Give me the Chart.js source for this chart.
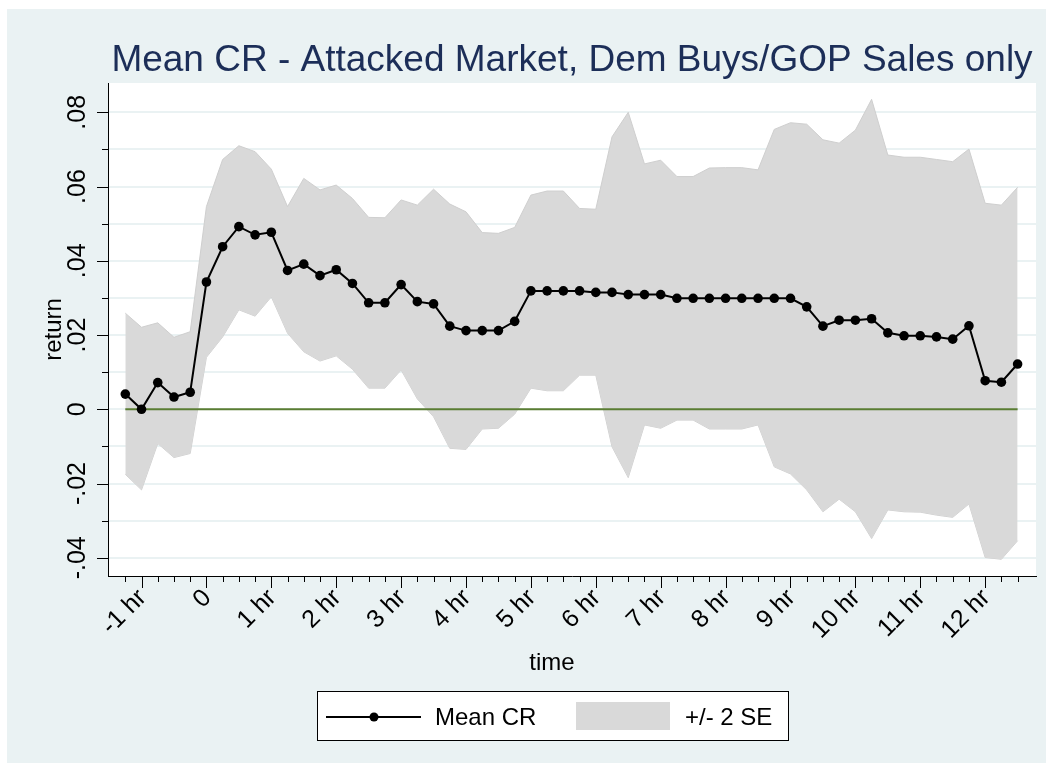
<!DOCTYPE html>
<html>
<head>
<meta charset="utf-8">
<title>Mean CR</title>
<script src="https://cdn.jsdelivr.net/npm/chart.js@4.4.1/dist/chart.umd.min.js"></script>
<style>
  html, body { margin: 0; padding: 0; background: #fff; }
  canvas { display: block; }
</style>
</head>
<body>
<canvas id="cr-chart" width="1053" height="772"></canvas>
<script>
// time in minutes relative to the event
const times = [-75, -60, -45, -30, -15, 0, 15, 30, 45, 60,
  75, 90, 105, 120, 135, 150, 165, 180, 195, 210,
  225, 240, 255, 270, 285, 300, 315, 330, 345, 360,
  375, 390, 405, 420, 435, 450, 465, 480, 495, 510,
  525, 540, 555, 570, 585, 600, 615, 630, 645, 660,
  675, 690, 705, 720, 735, 750];

const meanCR = [.0041, .0000, .0072, .0033, .0046, .0343, .0438, .0492, .0470, .0477,
  .0374, .0391, .0360, .0376, .0339, .0287, .0287, .0336, .0290, .0284,
  .0224, .0212, .0212, .0212, .0237, .0319, .0319, .0319, .0319, .0315,
  .0315, .0309, .0309, .0309, .0299, .0299, .0299, .0299, .0299, .0299,
  .0299, .0299, .0276, .0224, .0240, .0240, .0244, .0206, .0198, .0198,
  .0195, .0189, .0225, .0077, .0073, .0122];

const upperSE = [.0259, .0221, .0233, .0194, .0209, .0546, .0673, .0710, .0694, .0647,
  .0546, .0622, .0591, .0604, .0568, .0517, .0516, .0564, .0550, .0593,
  .0553, .0532, .0476, .0474, .0490, .0577, .0588, .0588, .0541, .0539,
  .0734, .0800, .0661, .0671, .0627, .0627, .0650, .0651, .0651, .0645,
  .0754, .0772, .0768, .0726, .0717, .0752, .0835, .0685, .0679, .0679,
  .0673, .0667, .0701, .0555, .0550, .0598];

const lowerSE = [-.0175, -.0217, -.0092, -.0130, -.0119, .0140, .0195, .0268, .0251, .0303,
  .0205, .0155, .0130, .0144, .0108, .0057, .0057, .0106, .0028, -.0020,
  -.0105, -.0108, -.0053, -.0051, -.0013, .0057, .0050, .0050, .0092, .0092,
  -.0101, -.0184, -.0042, -.0051, -.0029, -.0029, -.0053, -.0053, -.0053, -.0042,
  -.0155, -.0174, -.0217, -.0276, -.0242, -.0276, -.0348, -.0271, -.0276, -.0277,
  -.0285, -.0291, -.0255, -.0399, -.0404, -.0354];

// reference line at zero, from first to last time
const zeroLine = [{x: -75, y: 0}, {x: 750, y: 0}];

const xLabelValues = [-60, 0, 60, 120, 180, 240, 300, 360, 420, 480, 540, 600, 660, 720];
const xLabels = ['-1 hr', '0', '1 hr', '2 hr', '3 hr', '4 hr', '5 hr', '6 hr', '7 hr', '8 hr', '9 hr', '10 hr', '11 hr', '12 hr'];
const yMajor = [-0.04, -0.02, 0, 0.02, 0.04, 0.06, 0.08];
const yLabels = ['-.04', '-.02', '0', '.02', '.04', '.06', '.08'];
const yMinor = [-0.03, -0.01, 0.01, 0.03, 0.05, 0.07];

const FONT = '"Liberation Sans", Arial, Helvetica, sans-serif';
const bandGray = '#d9d9d9';

const toXY = vals => times.map((t, i) => ({x: t, y: vals[i]}));

const stataLook = {
  id: 'stataLook',
  beforeDraw(chart) {
    const ctx = chart.ctx, a = chart.chartArea;
    ctx.save();
    ctx.fillStyle = '#ffffff';
    ctx.fillRect(0, 0, chart.width, chart.height);
    ctx.fillStyle = '#eaf2f3';
    ctx.fillRect(7, 9, 1039, 754);
    ctx.fillStyle = '#ffffff';
    ctx.fillRect(a.left, a.top, a.right - a.left, a.bottom - a.top);
    ctx.restore();
  },
  afterDraw(chart) {
    const ctx = chart.ctx, a = chart.chartArea;
    const x = chart.scales.x, y = chart.scales.y;
    ctx.save();
    ctx.strokeStyle = '#000';
    ctx.lineWidth = 1;

    // x ticks (15 min minor, hourly major)
    times.forEach(t => {
      const px = Math.round(x.getPixelForValue(t)) + 0.5;
      const len = xLabelValues.includes(t) ? 12 : 6;
      ctx.beginPath();
      ctx.moveTo(px, a.bottom);
      ctx.lineTo(px, a.bottom + len);
      ctx.stroke();
    });
    // y ticks
    yMajor.concat(yMinor).forEach((v, i) => {
      const py = Math.round(y.getPixelForValue(v)) + 0.5;
      const len = i < yMajor.length ? 11 : 6;
      ctx.beginPath();
      ctx.moveTo(a.left, py);
      ctx.lineTo(a.left - len, py);
      ctx.stroke();
    });

    ctx.fillStyle = '#000';
    ctx.font = '25px ' + FONT;
    // x labels, rotated 45
    xLabelValues.forEach((v, i) => {
      ctx.save();
      ctx.translate(x.getPixelForValue(v) + 1, a.bottom + 18);
      ctx.rotate(-Math.PI / 4);
      ctx.textAlign = 'right';
      ctx.textBaseline = 'middle';
      ctx.fillText(xLabels[i], 0, 0);
      ctx.restore();
    });
    // y labels, vertical
    yMajor.forEach((v, i) => {
      ctx.save();
      ctx.translate(a.left - 30, y.getPixelForValue(v));
      ctx.rotate(-Math.PI / 2);
      ctx.textAlign = 'center';
      ctx.textBaseline = 'middle';
      ctx.fillText(yLabels[i], 0, 0);
      ctx.restore();
    });

    // axis titles
    ctx.font = '24px ' + FONT;
    ctx.save();
    ctx.translate(54, (a.top + a.bottom) / 2);
    ctx.rotate(-Math.PI / 2);
    ctx.textAlign = 'center';
    ctx.textBaseline = 'middle';
    ctx.fillText('return', 0, 0);
    ctx.restore();
    ctx.textAlign = 'center';
    ctx.textBaseline = 'alphabetic';
    ctx.fillText('time', 552, 670);

    // title
    ctx.fillStyle = '#1c2e58';
    ctx.font = '37px ' + FONT;
    ctx.fillText('Mean CR - Attacked Market, Dem Buys/GOP Sales only', (a.left + a.right) / 2, 71);

    // legend
    ctx.fillStyle = '#fff';
    ctx.fillRect(317, 691, 472, 50);
    ctx.strokeStyle = '#000';
    ctx.strokeRect(317.5, 691.5, 471, 49);
    ctx.lineWidth = 2;
    ctx.beginPath();
    ctx.moveTo(326, 717);
    ctx.lineTo(421, 717);
    ctx.stroke();
    ctx.fillStyle = '#000';
    ctx.beginPath();
    ctx.arc(374, 717, 4.5, 0, Math.PI * 2);
    ctx.fill();
    ctx.fillStyle = bandGray;
    ctx.fillRect(576, 702, 94, 28);
    ctx.fillStyle = '#000';
    ctx.font = '24px ' + FONT;
    ctx.textAlign = 'left';
    ctx.fillText('Mean CR', 435, 725);
    ctx.fillText('+/- 2 SE', 685, 725);
    ctx.restore();
  }
};

new Chart(document.getElementById('cr-chart'), {
  type: 'line',
  data: {
    datasets: [
      {
        label: 'Mean CR',
        data: toXY(meanCR),
        borderColor: '#000',
        borderWidth: 2,
        pointRadius: 4.8,
        pointBorderWidth: 0,
        pointBackgroundColor: '#000',
        tension: 0,
        order: 0
      },
      {
        label: 'zero',
        data: zeroLine,
        borderColor: '#5a7d33',
        borderWidth: 2,
        pointRadius: 0,
        order: 1
      },
      {
        label: '+/- 2 SE',
        data: toXY(upperSE),
        borderColor: '#cfcfcf',
        borderWidth: 1,
        pointRadius: 0,
        backgroundColor: bandGray,
        fill: '+1',
        order: 2
      },
      {
        label: 'lower',
        data: toXY(lowerSE),
        borderColor: '#cfcfcf',
        borderWidth: 1,
        pointRadius: 0,
        fill: false,
        order: 3
      }
    ]
  },
  options: {
    responsive: false,
    animation: false,
    events: [],
    layout: { padding: { left: 0, right: 17, top: 83, bottom: 0 } },
    plugins: {
      legend: { display: false },
      title: { display: false },
      tooltip: { enabled: false }
    },
    scales: {
      x: {
        type: 'linear',
        min: -91,
        max: 767,
        grid: { display: false },
        border: { display: true, color: '#000', width: 1 },
        ticks: { display: false },
        afterFit: scale => { scale.height = 196; }
      },
      y: {
        type: 'linear',
        min: -0.0449,
        max: 0.0879,
        grid: { color: '#eaf2f3', lineWidth: 2, drawTicks: false },
        border: { display: true, color: '#000', width: 1 },
        ticks: { display: false },
        afterBuildTicks: scale => {
          scale.ticks = yMajor.concat(yMinor).map(v => ({value: v}));
        },
        afterFit: scale => { scale.width = 108; }
      }
    }
  },
  plugins: [stataLook]
});
</script>
</body>
</html>
